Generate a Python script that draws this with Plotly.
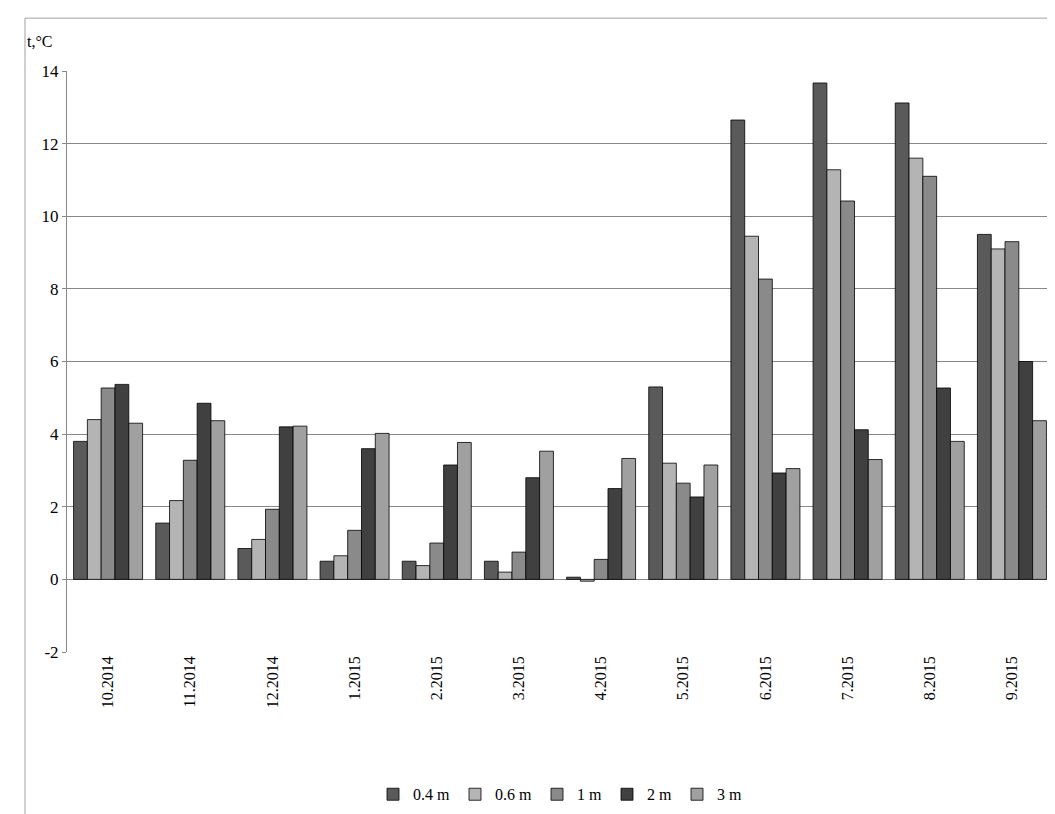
import plotly.graph_objects as go

months = ["10.2014", "11.2014", "12.2014", "1.2015", "2.2015", "3.2015",
          "4.2015", "5.2015", "6.2015", "7.2015", "8.2015", "9.2015"]

depth_04 = [3.8, 1.55, 0.85, 0.5, 0.5, 0.5, 0.06, 5.3, 12.65, 13.67, 13.12, 9.5]
depth_06 = [4.4, 2.17, 1.1, 0.65, 0.38, 0.2, -0.05, 3.2, 9.45, 11.28, 11.6, 9.1]
depth_1 = [5.27, 3.28, 1.93, 1.35, 1.0, 0.75, 0.55, 2.65, 8.27, 10.42, 11.1, 9.3]
depth_2 = [5.37, 4.85, 4.2, 3.6, 3.15, 2.8, 2.5, 2.27, 2.93, 4.12, 5.27, 6.0]
depth_3 = [4.3, 4.37, 4.22, 4.02, 3.77, 3.53, 3.33, 3.15, 3.05, 3.3, 3.8, 4.37]

y_ticks = [-2, 0, 2, 4, 6, 8, 10, 12, 14]

series = [
    ("0.4 m", depth_04, "#5a5a5a"),
    ("0.6 m", depth_06, "#b4b4b4"),
    ("1 m", depth_1, "#8a8a8a"),
    ("2 m", depth_2, "#404040"),
    ("3 m", depth_3, "#a0a0a0"),
]

fig = go.Figure()
for name, vals, color in series:
    fig.add_trace(go.Bar(
        x=months, y=vals, name=name,
        marker=dict(color=color, line=dict(color="black", width=0.8)),
    ))

fig.update_layout(
    width=1055, height=814,
    paper_bgcolor="white", plot_bgcolor="white",
    font=dict(family="Liberation Serif, Times New Roman, serif", size=16, color="black"),
    barmode="group", bargap=0.16, bargroupgap=0,
    margin=dict(l=59, r=10, t=63, b=170, autoexpand=False),
    legend=dict(orientation="h", x=0.5, xanchor="center", y=-0.245, yanchor="middle",
                font=dict(size=16), bgcolor="rgba(0,0,0,0)", traceorder="normal"),
    annotations=[dict(text="t,°C", xref="paper", yref="paper", x=-0.043, y=1.05,
                      xanchor="left", yanchor="middle", showarrow=False, font=dict(size=16))],
    shapes=[dict(type="rect", xref="paper", yref="paper", x0=-0.0426, x1=1.0,
                 y0=-0.289, y1=1.091, line=dict(color="#a0a0a0", width=1))],
)
fig.update_xaxes(tickangle=-90, showline=False, ticks="", automargin=False,
                 tickfont=dict(size=16))
fig.update_yaxes(range=[-2, 14], tickvals=y_ticks, ticktext=[str(v) for v in y_ticks],
                 showgrid=True, gridcolor="#888888", automargin=False,
                 zeroline=True, zerolinecolor="#888888", zerolinewidth=1,
                 showline=True, linecolor="#888888", ticks="outside", ticklen=4,
                 tickcolor="#888888", tickfont=dict(size=17))

fig.write_html("out.html")
